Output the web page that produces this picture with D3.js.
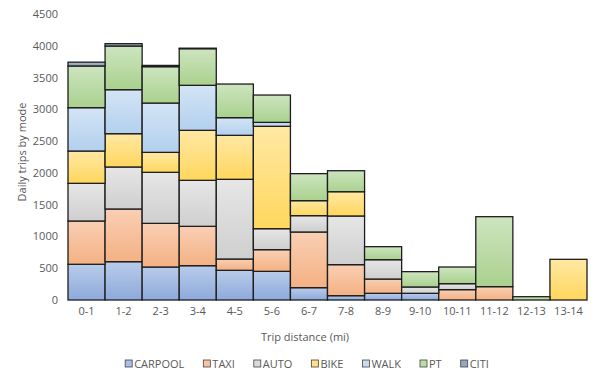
<!DOCTYPE html>
<html>
<head>
<meta charset="utf-8">
<script src="https://cdn.jsdelivr.net/npm/d3@7"></script>
<style>
  html, body { margin: 0; padding: 0; background: #fff; }
  svg text { font-family: "Open Sans", "Noto Sans", sans-serif; fill: #595959; }
</style>
</head>
<body>
<svg id="chart" width="600" height="387"></svg>
<script>
const categories = ["0-1","1-2","2-3","3-4","4-5","5-6","6-7","7-8","8-9","9-10","10-11","11-12","12-13","13-14"];
const seriesNames = ["CARPOOL","TAXI","AUTO","BIKE","WALK","PT","CITI"];
const CARPOOL = [562, 603, 519, 540, 467, 451, 194, 68, 105, 105, 0, 0, 0, 0];
const TAXI    = [681, 829, 687, 619, 178, 341, 876, 488, 225, 0, 163, 210, 0, 0];
const AUTO    = [593, 661, 803, 724, 1254, 330, 257, 766, 304, 100, 94, 0, 0, 0];
const BIKE    = [508, 524, 314, 787, 692, 1611, 236, 382, 0, 0, 0, 0, 0, 640];
const WALK    = [682, 692, 776, 708, 278, 62, 0, 0, 0, 0, 0, 0, 0, 0];
const PT      = [656, 687, 572, 576, 529, 430, 425, 330, 205, 241, 262, 1101, 52, 0];
const CITI    = [60, 37, 20, 8, 0, 0, 0, 0, 0, 0, 0, 0, 0, 0];
const yTicks  = [0, 500, 1000, 1500, 2000, 2500, 3000, 3500, 4000, 4500];

const colors = {
  CARPOOL: ["#b8cbea", "#8eaadb"],
  TAXI:    ["#f9cfb4", "#f4b183"],
  AUTO:    ["#e6e6e6", "#cfcfcf"],
  BIKE:    ["#ffe8a3", "#ffd75e"],
  WALK:    ["#d3e4f5", "#b3d0ee"],
  PT:      ["#cde5bf", "#a9d18e"],
  CITI:    ["#b4bfcf", "#8497b0"]
};
const legendColors = {
  CARPOOL: "#a9bfe6", TAXI: "#f7c3a0", AUTO: "#dadada", BIKE: "#ffe082",
  WALK: "#c5dcf2", PT: "#bcdca6", CITI: "#97a7bd"
};

const seriesData = { CARPOOL, TAXI, AUTO, BIKE, WALK, PT, CITI };
const table = categories.map((c, i) => {
  const row = { cat: c };
  seriesNames.forEach(s => row[s] = seriesData[s][i]);
  return row;
});

const svg = d3.select("#chart");
const x = d3.scaleBand().domain(categories).range([68, 587]).padding(0);
const y = d3.scaleLinear().domain([0, 4500]).range([300, 14]);

const defs = svg.append("defs");
seriesNames.forEach(s => {
  const g = defs.append("linearGradient").attr("id", "g-" + s)
    .attr("x1", 0).attr("y1", 0).attr("x2", 0).attr("y2", 1);
  g.append("stop").attr("offset", "0%").attr("stop-color", colors[s][0]);
  g.append("stop").attr("offset", "100%").attr("stop-color", colors[s][1]);
});

const stack = d3.stack().keys(seriesNames)(table);

const layers = svg.append("g").selectAll("g").data(stack).join("g")
  .attr("fill", d => "url(#g-" + d.key + ")");
layers.selectAll("rect")
  .data(d => d.filter(p => p[1] - p[0] > 0))
  .join("rect")
  .attr("x", d => x(d.data.cat))
  .attr("width", x.bandwidth())
  .attr("y", d => y(d[1]))
  .attr("height", d => y(d[0]) - y(d[1]))
  .attr("stroke", "#1e1e1e")
  .attr("stroke-width", 1.3);

// Y axis
const yAxis = d3.axisLeft(y).tickValues(yTicks).tickFormat(d3.format("d")).tickSize(0).tickPadding(0);
const ya = svg.append("g").attr("transform", "translate(58,0)").call(yAxis);
ya.select(".domain").remove();
ya.selectAll("text").style("font-size", "11px").attr("fill", "#595959");

// X axis
const xAxis = d3.axisBottom(x).tickSize(0).tickPadding(0);
const xa = svg.append("g").attr("transform", "translate(0,307)").call(xAxis);
xa.select(".domain").remove();
xa.selectAll("text").style("font-size", "11px").attr("fill", "#595959").attr("dy", "0.75em");

// Titles
svg.append("text").attr("x", 305).attr("y", 341).attr("text-anchor", "middle")
  .style("font-size", "11px").text("Trip distance (mi)");
svg.append("text").attr("transform", "translate(26,152) rotate(-90)")
  .attr("text-anchor", "middle").style("font-size", "11px").text("Daily trips by mode");

// Legend
const lg = svg.append("g");
let cx = 0;
seriesNames.forEach(s => {
  const it = lg.append("g");
  it.append("rect").attr("x", 0).attr("y", -4).attr("width", 7).attr("height", 7)
    .attr("fill", legendColors[s]).attr("stroke", "#444").attr("stroke-width", 0.8);
  const t = it.append("text").attr("x", 9).attr("y", 0).attr("dy", "0.35em")
    .style("font-size", "11px").text(s);
  const w = 9 + t.node().getComputedTextLength();
  it.attr("transform", `translate(${cx},364)`);
  cx += w + 19;
});
const totalW = cx - 19;
lg.attr("transform", `translate(${307 - totalW / 2},0)`);
</script>
</body>
</html>
